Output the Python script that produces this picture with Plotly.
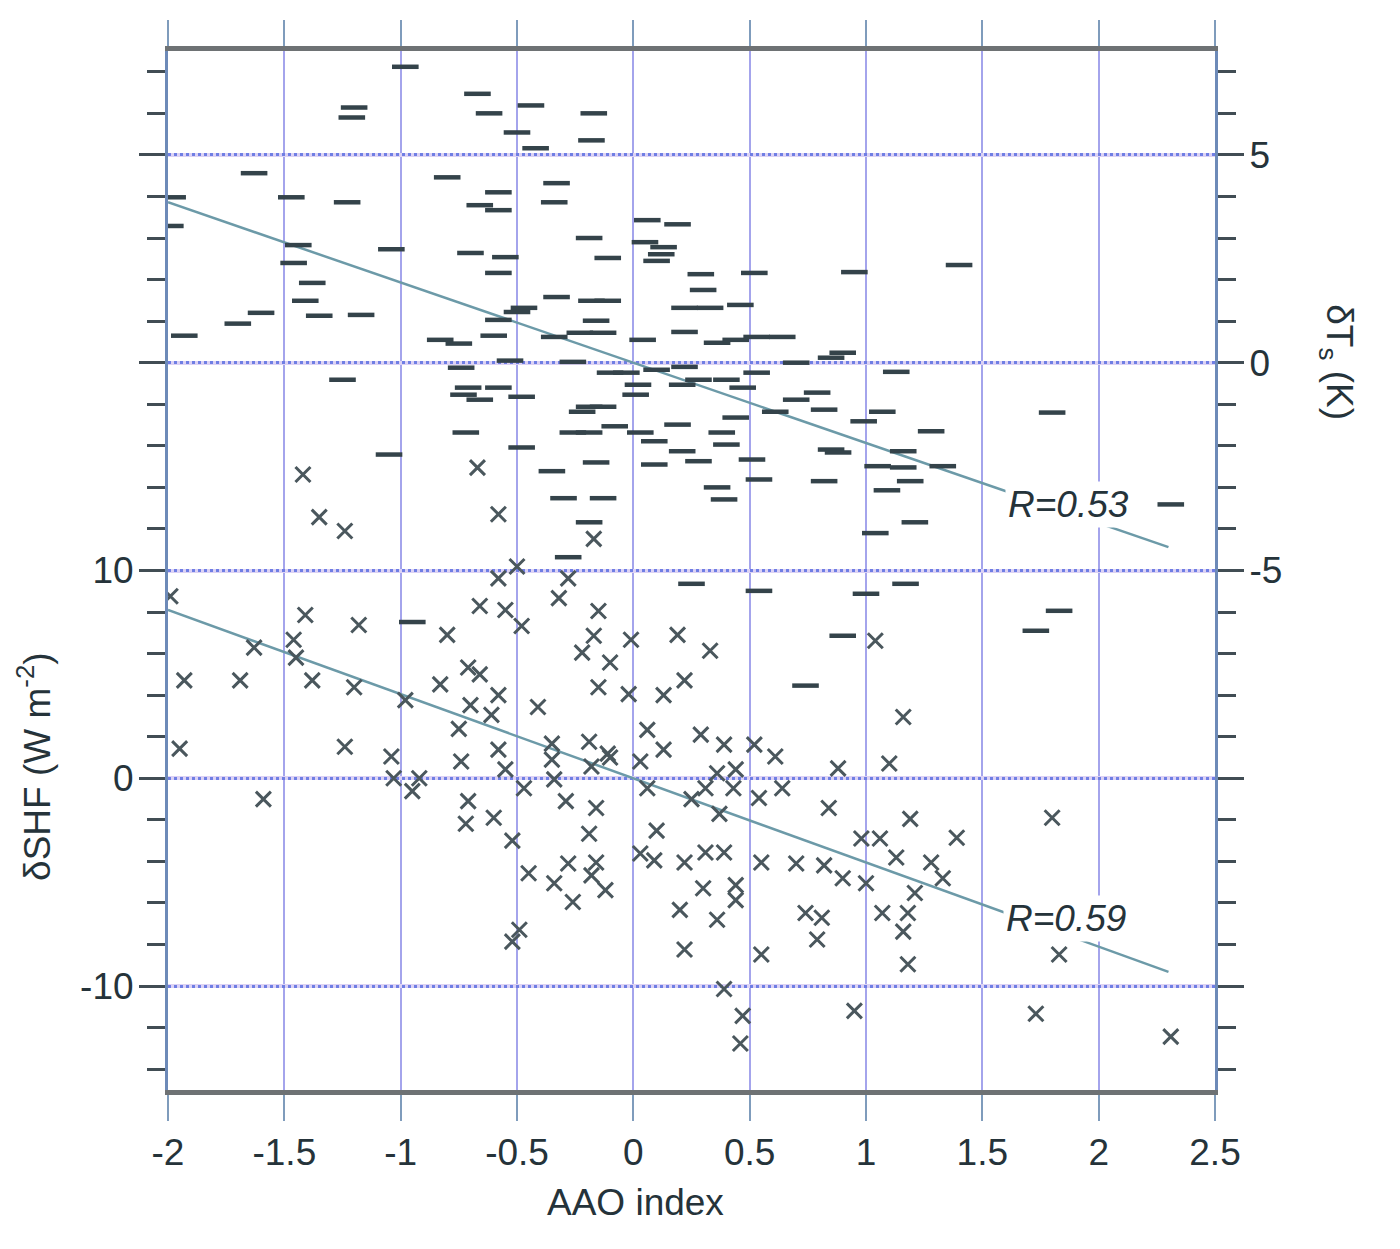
import plotly.graph_objects as go
import numpy as np

# ---- data ----
# Upper cloud: delta Ts (K, right axis) vs AAO index  (dash markers)
aao_T = [-1.98, -1.99, -1.93, -0.98, -0.67, -0.62, -0.44, -0.50, -0.42, -0.17,
         -0.18, -1.20, -1.21, -1.63, -1.47, -1.23, -0.80, -0.58, -0.66, -0.58,
         -0.33, -0.34, 0.06, 0.19, 0.05, 0.13, 0.12, 0.10, 0.29, -1.44,
         -1.46, -1.38, -1.41, -1.35, -1.17, -1.60, -1.70, -1.04, -0.70, -0.55,
         -0.58, -0.19, -0.11, -0.33, -0.18, -0.11, -0.16, -0.23, -0.13, -0.47,
         -0.50, -0.58, -0.60, -0.34, -0.83, -0.75, 0.04, 0.22, 0.22, 0.30,
         0.33, 0.46, 0.36, 0.44, 0.53, 0.64, 0.52, 0.95, 1.40, -0.53,
         -0.26, -0.74, -0.71, -0.73, -0.66, -0.58, -0.48, -0.19, -0.13, -0.22,
         -0.10, -0.03, 0.02, 0.01, 0.10, 0.22, 0.21, -0.26, -0.19, -0.08,
         0.03, 0.09, 0.19, 0.21, 0.28, 0.09, -0.72, -0.48, -1.05, -1.25,
         -0.35, -0.16, -0.30, -0.13, -0.19, -0.28, 0.25, -0.95, 0.90, 0.85,
         0.70, 0.53, 0.28, 0.40, 0.47, 0.79, 0.70, 0.82, 0.61, 0.44,
         0.38, 1.07, 0.99, 1.28, 0.40, 0.85, 0.88, 0.51, 1.16, 1.33,
         1.05, 1.16, 1.19, 1.09, 0.82, 0.54, 0.36, 0.39, 1.21, 1.04,
         1.80, 2.31, 1.13, 0.54, 1.00, 1.17, 1.83, 1.73, 0.90, 0.74]
dTs = [3.98, 3.29, 0.65, 7.12, 6.47, 6.00, 6.19, 5.54, 5.16, 6.00,
       5.35, 6.14, 5.90, 4.56, 3.98, 3.86, 4.46, 4.10, 3.79, 3.67,
       4.32, 3.86, 3.43, 3.33, 2.90, 2.78, 2.61, 2.45, 2.13, 2.83,
       2.40, 1.92, 1.49, 1.13, 1.15, 1.20, 0.94, 2.73, 2.64, 2.54,
       2.16, 3.00, 2.52, 1.58, 1.49, 1.49, 1.01, 0.72, 0.72, 1.32,
       1.22, 1.03, 0.65, 0.62, 0.55, 0.46, 0.55, 1.32, 0.74, 1.75,
       1.32, 1.39, 0.48, 0.55, 0.62, 0.62, 2.16, 2.18, 2.35, 0.05,
       0.02, -0.12, -0.60, -0.77, -0.89, -0.60, -0.82, -1.06, -1.06, -1.18,
       -0.24, -0.24, -0.53, -0.77, -0.17, -0.10, -0.53, -1.68, -1.68, -1.53,
       -1.68, -1.89, -1.49, -2.13, -2.37, -2.45, -1.68, -2.04, -2.21, -0.41,
       -2.61, -2.40, -3.26, -3.26, -3.84, -4.68, -5.32, -6.24, 0.24, 0.12,
       0.00, -0.24, -0.41, -0.41, -0.60, -0.72, -0.89, -1.13, -1.18, -1.32,
       -1.68, -1.18, -1.41, -1.65, -1.97, -2.09, -2.16, -2.33, -2.13, -2.49,
       -2.49, -2.52, -2.85, -3.07, -2.85, -2.81, -3.00, -3.29, -3.84, -4.10,
       -1.20, -3.41, -0.22, -5.49, -5.56, -5.32, -5.97, -6.45, -6.57, -7.77]

# Lower cloud: delta SHF (W m-2, left axis) vs AAO index  (x markers)
aao_S = [-1.42, -1.35, -1.24, -0.67, -0.58, -0.17, -0.50, -0.58, -0.28, -0.32,
         -1.99, -1.41, -1.18, -1.46, -0.66, -0.55, -0.48, -0.80, -0.15, -0.17,
         -0.01, 0.19, -1.93, -1.95, -1.69, -1.63, -1.45, -1.38, -1.59, -1.20,
         -1.24, -0.98, -1.04, -1.03, -0.92, -0.95, -0.83, -0.71, -0.66, -0.58,
         -0.70, -0.61, -0.75, -0.74, -0.58, -0.55, -0.41, -0.35, -0.35, -0.34,
         -0.19, -0.11, -0.10, -0.18, -0.22, -0.10, -0.15, -0.02, 0.22, 0.13,
         0.06, 0.13, 0.03, 0.06, 0.25, -0.47, -0.71, -0.72, -0.60, -0.52,
         -0.45, -0.34, -0.26, -0.28, -0.16, -0.18, -0.12, -0.16, -0.29, -0.19,
         0.10, 0.03, 0.09, 0.22, 0.20, 0.22, -0.49, -0.52, 0.33, 0.29,
         0.39, 0.52, 0.61, 0.36, 0.44, 0.31, 0.43, 0.37, 0.54, 0.64,
         0.88, 1.10, 1.04, 1.16, 0.84, 1.19, 1.39, 0.98, 1.06, 1.13,
         1.28, 1.33, 0.31, 0.39, 0.55, 0.70, 0.82, 0.90, 1.00, 0.30,
         0.44, 0.44, 0.36, 0.74, 0.81, 1.07, 1.18, 1.21, 1.16, 0.79,
         0.55, 1.18, 1.83, 1.80, 0.39, 0.47, 0.46, 0.95, 1.73, 2.31]
dSHF = [14.62, 12.57, 11.90, 14.95, 12.71, 11.52, 10.19, 9.62, 9.62, 8.67,
        8.76, 7.86, 7.38, 6.67, 8.29, 8.10, 7.33, 6.90, 8.05, 6.86,
        6.67, 6.90, 4.71, 1.43, 4.71, 6.29, 5.81, 4.71, -1.00, 4.38,
        1.52, 3.76, 1.05, 0.00, 0.00, -0.62, 4.52, 5.33, 5.00, 4.00,
        3.52, 3.05, 2.38, 0.81, 1.38, 0.43, 3.43, 1.67, 0.90, -0.05,
        1.76, 1.19, 1.00, 0.57, 6.05, 5.57, 4.38, 4.05, 4.71, 4.00,
        2.33, 1.38, 0.81, -0.48, -1.00, -0.48, -1.10, -2.19, -1.90, -3.00,
        -4.57, -5.05, -5.95, -4.10, -4.05, -4.67, -5.38, -1.43, -1.10, -2.67,
        -2.52, -3.62, -3.95, -4.05, -6.33, -8.24, -7.29, -7.86, 6.14, 2.10,
        1.62, 1.62, 1.05, 0.24, 0.43, -0.48, -0.48, -1.71, -0.95, -0.48,
        0.48, 0.71, 6.62, 2.95, -1.43, -1.95, -2.86, -2.90, -2.90, -3.81,
        -4.05, -4.81, -3.57, -3.57, -4.05, -4.10, -4.19, -4.81, -5.05, -5.29,
        -5.14, -5.86, -6.81, -6.48, -6.71, -6.48, -6.48, -5.52, -7.38, -7.76,
        -8.48, -8.95, -8.48, -1.90, -10.14, -11.43, -12.76, -11.19, -11.33, -12.43]

# regression lines (slope, intercept) and their x extent
fit_T = (-1.93, 0.0)
fit_S = (-4.05, 0.0)
fit_x = [-2.0, 2.3]
labels_R = ["R=0.53", "R=0.59"]

x_ticks = [-2, -1.5, -1, -0.5, 0, 0.5, 1, 1.5, 2, 2.5]
x_ticktext = ["-2", "-1.5", "-1", "-0.5", "0", "0.5", "1", "1.5", "2", "2.5"]
yL_major = [-10, 0, 10, 20, 30]        # long ticks + gridlines (left scale)
yL_labels = [-10, 0, 10]
yL_labeltext = ["-10", "0", "10"]
yR_major = [-15, -10, -5, 0, 5]        # long ticks (right scale)
yR_labels = [-5, 0, 5]
yR_labeltext = ["-5", "0", "5"]

yL_range = [-15, 35]
yR_range = [-17.5, 7.5]

FONT = "Liberation Sans, Arial, Helvetica, sans-serif"
TXT = "#25333a"
LINE_C = "#6c9aa8"
MARK_C = "#34434a"
TICK_C = "#414d54"
AX_C = "#6d8ab8"
CLEAR = "rgba(0,0,0,0)"

fx = np.array(fit_x)
fig = go.Figure()
fig.add_trace(go.Scatter(x=fx, y=fit_T[0] * fx + fit_T[1], mode="lines",
                         line=dict(color=LINE_C, width=2.5), yaxis="y2",
                         showlegend=False, hoverinfo="skip"))
fig.add_trace(go.Scatter(x=fx, y=fit_S[0] * fx + fit_S[1], mode="lines",
                         line=dict(color=LINE_C, width=2.5), yaxis="y",
                         showlegend=False, hoverinfo="skip"))
fig.add_trace(go.Scatter(x=aao_S, y=dSHF, mode="markers", yaxis="y",
                         marker=dict(symbol="x-thin", size=15,
                                     line=dict(color="#4a575d", width=3)),
                         showlegend=False))
fig.add_trace(go.Scatter(x=aao_T, y=dTs, mode="markers", yaxis="y2",
                         marker=dict(symbol="line-ew", size=19,
                                     line=dict(color=MARK_C, width=4.5)),
                         showlegend=False))
# invisible traces to activate the label-only axes
fig.add_trace(go.Scatter(x=[None], y=[None], yaxis="y3", showlegend=False, hoverinfo="skip"))
fig.add_trace(go.Scatter(x=[None], y=[None], yaxis="y4", showlegend=False, hoverinfo="skip"))

# R labels placed along the fit lines
fig.add_annotation(x=1.87, y=fit_T[0] * 1.87 + fit_T[1] + 0.2, xref="x", yref="y2",
                   text="<i>" + labels_R[0] + "</i>", showarrow=False,
                   font=dict(family=FONT, size=37, color=TXT),
                   bgcolor="white", borderpad=2)
fig.add_annotation(x=1.86, y=fit_S[0] * 1.86 + fit_S[1] + 0.8, xref="x", yref="y",
                   text="<i>" + labels_R[1] + "</i>", showarrow=False,
                   font=dict(family=FONT, size=37, color=TXT),
                   bgcolor="white", borderpad=2)

# axis titles
fig.add_annotation(x=0.01, y=-0.108, xref="x", yref="paper", text="AAO index",
                   showarrow=False, font=dict(family=FONT, size=37, color=TXT),
                   xanchor="center", yanchor="middle")
fig.add_annotation(x=-0.127, y=0.55, xref="paper", yref="y",
                   text="δSHF (W m<sup>-2</sup>)", textangle=-90, showarrow=False,
                   font=dict(family=FONT, size=37, color=TXT),
                   xanchor="center", yanchor="middle")
fig.add_annotation(x=1.117, y=0, xref="paper", yref="y2",
                   text="δT<sub>s</sub> (K)", textangle=90, showarrow=False,
                   font=dict(family=FONT, size=37, color=TXT),
                   xanchor="center", yanchor="middle")

fig.update_layout(
    width=1400, height=1249, autosize=False,
    margin=dict(l=160, r=193, t=37, b=167, pad=0),
    paper_bgcolor="white", plot_bgcolor="white",
    font=dict(family=FONT, size=37, color=TXT),
    xaxis=dict(range=[-2, 2.5], tickmode="array", tickvals=x_ticks, ticktext=x_ticktext,
               showgrid=True, gridcolor="#a4a4ec", gridwidth=2,
               showline=True, linecolor="#6e7274", linewidth=5, mirror="ticks",
               ticks="outside", ticklen=26, tickwidth=2, tickcolor="#7f9cbc",
               zeroline=False, tickfont=dict(size=37, color=TXT)),
    # left scale: ticks, light lavender grid band, axis line (no labels)
    yaxis=dict(range=yL_range, tickmode="array", tickvals=yL_major,
               showticklabels=False,
               showgrid=True, gridcolor="#dcd2f4", gridwidth=4,
               showline=True, linecolor=AX_C, linewidth=2.5,
               ticks="outside", ticklen=26, tickwidth=3, tickcolor=TICK_C,
               minor=dict(tick0=0, dtick=2, ticks="outside", ticklen=18, tickwidth=3,
                          tickcolor=TICK_C, showgrid=False),
               zeroline=False),
    # right scale: ticks, dotted grid, axis line (no labels)
    yaxis2=dict(range=yR_range, overlaying="y", side="right", anchor="x",
                tickmode="array", tickvals=yR_major, showticklabels=False,
                showgrid=True, gridcolor="#6f7ee4", gridwidth=3, griddash="dot",
                showline=True, linecolor=AX_C, linewidth=2.5,
                ticks="outside", ticklen=26, tickwidth=3, tickcolor=TICK_C,
                minor=dict(tick0=0, dtick=1, ticks="outside", ticklen=18, tickwidth=3,
                           tickcolor=TICK_C, showgrid=False),
                zeroline=False),
    # left labels only
    yaxis3=dict(range=yL_range, overlaying="y", side="left", anchor="x",
                tickmode="array", tickvals=yL_labels, ticktext=yL_labeltext,
                showgrid=False, showline=False, zeroline=False,
                ticks="outside", ticklen=26, tickcolor=CLEAR,
                tickfont=dict(size=37, color=TXT)),
    # right labels only
    yaxis4=dict(range=yR_range, overlaying="y", side="right", anchor="x",
                tickmode="array", tickvals=yR_labels, ticktext=yR_labeltext,
                showgrid=False, showline=False, zeroline=False,
                ticks="outside", ticklen=26, tickcolor=CLEAR,
                tickfont=dict(size=37, color=TXT)),
)

fig.write_html("out.html")
